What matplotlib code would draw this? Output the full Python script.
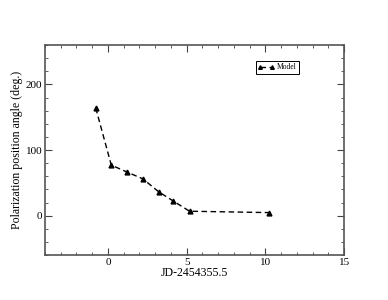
import matplotlib
matplotlib.use("Agg")
import matplotlib.pyplot as plt
from matplotlib.ticker import MultipleLocator

jd = [-0.78, 0.21, 1.2, 2.22, 3.21, 4.16, 5.18, 10.25]
angle = [164, 77, 66.5, 56, 36.5, 22, 6.7, 4.6]
series_label = "Model"
xlabel = "JD-2454355.5"
ylabel = "Polarization position angle (deg.)"

plt.rcParams['font.family'] = ['Liberation Serif', 'DejaVu Serif']

fig = plt.figure(figsize=(3.88, 3.0), dpi=100)
ax = fig.add_axes([0.116, 0.15, 0.771, 0.70])
ax.plot(jd, angle, linestyle=(0, (4, 2.5)), color='black', linewidth=1.0,
        marker='^', markersize=3.5, label=series_label)
ax.set_xlim(-4, 15)
ax.set_ylim(-60, 260)
ax.xaxis.set_major_locator(MultipleLocator(5))
ax.xaxis.set_minor_locator(MultipleLocator(1))
ax.yaxis.set_major_locator(MultipleLocator(100))
ax.yaxis.set_minor_locator(MultipleLocator(20))
ax.tick_params(which='both', direction='in', top=True, right=True, labelsize=8, pad=2,
               color='#444444')
ax.tick_params(which='major', length=5, width=0.8)
ax.tick_params(which='minor', length=2.5, width=0.6)
for s in ax.spines.values():
    s.set_color('#555555')
    s.set_linewidth(1.2)
ax.set_xlabel(xlabel, fontsize=8.5, labelpad=0)
ax.set_ylabel(ylabel, fontsize=8.6, labelpad=2)
leg = ax.legend(loc='upper right', bbox_to_anchor=(0.849, 0.924), fontsize=5.5,
                fancybox=False, edgecolor='black', framealpha=1, handlelength=2.2,
                numpoints=2, markerscale=0.75,
                borderpad=0.3, handletextpad=0.3, borderaxespad=0)
leg.get_frame().set_linewidth(0.7)
fig.savefig("out.png", dpi=100)
